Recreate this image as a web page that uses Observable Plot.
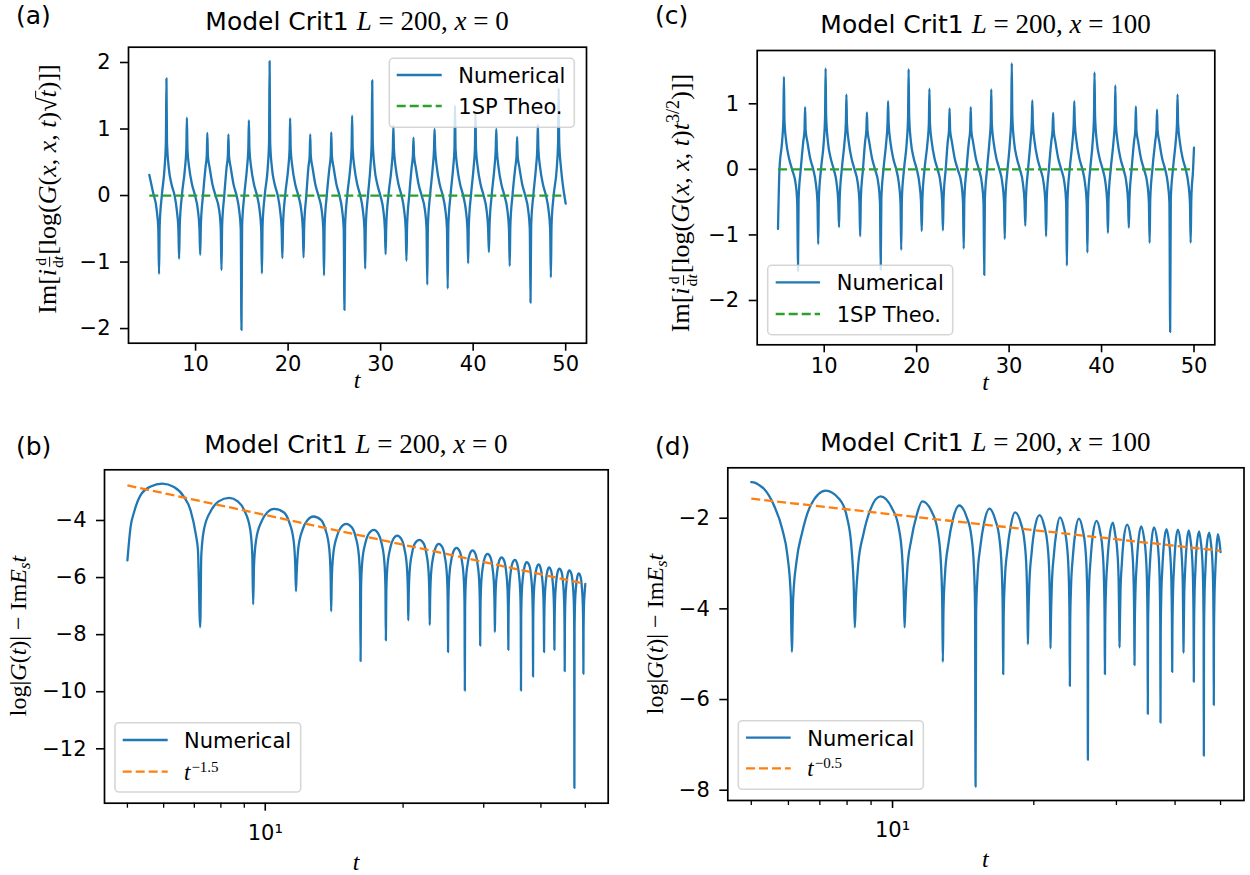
<!DOCTYPE html>
<html>
<head>
<meta charset="utf-8">
<script src="https://cdn.jsdelivr.net/npm/d3@7"></script>
<script src="https://cdn.jsdelivr.net/npm/@observablehq/plot@0.6"></script>
<style>
html,body{margin:0;padding:0;background:#fff;}
#fig{position:relative;width:1250px;height:875px;overflow:hidden;background:#fff;}
#fig > svg{position:absolute;}
.ylab{position:absolute;transform:translate(-50%,-50%) rotate(-90deg);white-space:nowrap;font-family:"Liberation Serif",serif;font-size:24px;line-height:1;color:#000;}
.ylab.big{font-size:26px;}
.frac{display:inline-flex;flex-direction:column;align-items:center;vertical-align:middle;font-size:0.6em;line-height:1.05;margin:0 1px;}
.frac .n{border-bottom:1px solid #000;padding:0 1px;}
.rad{border-top:1.2px solid #000;display:inline-block;line-height:0.95;}
.sup{font-size:0.7em;vertical-align:0.55em;}
.sub{font-size:0.7em;vertical-align:-0.25em;}
</style>
</head>
<body>
<div id="fig"></div>
<script>
// ---------------- data ----------------
const numA = [[5,0.31],[5.4,0.05],[5.8,-0.22],[5.97,-0.5],
[6.05,-1.18],[6.12,-0.45],[6.35,0],[6.65,0.42],[6.79,0.8],[6.85,1.76],[6.91,0.8],[7.1,0.42],[7.4,0.17],[7.73,0],[7.97,-0.22],[8.14,-0.5],
[8.22,-0.95],[8.29,-0.45],[8.52,0],[8.86,0.42],[9.0,0.7],[9.06,1.17],[9.12,0.7],[9.31,0.42],[9.61,0.17],[9.94,0],[10.25,-0.22],[10.42,-0.5],
[10.5,-0.89],[10.57,-0.45],[10.8,0],[11.07,0.42],[11.21,0.6],[11.27,0.94],[11.33,0.6],[11.52,0.42],[11.82,0.17],[12.15,0],[12.55,-0.22],[12.72,-0.5],
[12.8,-1.12],[12.87,-0.45],[13.1,0],[13.35,0.42],[13.49,0.6],[13.55,0.92],[13.61,0.6],[13.8,0.42],[14.1,0.17],[14.43,0],[14.71,-0.22],[14.88,-0.5],
[14.96,-2.02],[15.03,-0.45],[15.26,0],[15.56,0.42],[15.7,0.7],[15.76,1.13],[15.82,0.7],[16.01,0.42],[16.31,0.17],[16.64,0],[16.92,-0.22],[17.09,-0.5],
[17.17,-1.17],[17.24,-0.45],[17.47,0],[17.8,0.42],[17.94,0.8],[18.0,2.02],[18.06,0.8],[18.25,0.42],[18.55,0.17],[18.88,0],[19.13,-0.22],[19.3,-0.5],
[19.38,-0.94],[19.45,-0.45],[19.68,0],[20.02,0.42],[20.16,0.7],[20.22,1.16],[20.28,0.7],[20.47,0.42],[20.77,0.17],[21.1,0],[21.42,-0.22],[21.59,-0.5],
[21.67,-0.93],[21.74,-0.45],[21.97,0],[22.19,0.42],[22.33,0.6],[22.39,0.92],[22.45,0.6],[22.64,0.42],[22.94,0.17],[23.27,0],[23.63,-0.22],[23.8,-0.5],
[23.88,-1.2],[23.95,-0.45],[24.18,0],[24.47,0.42],[24.61,0.6],[24.67,0.95],[24.73,0.6],[24.92,0.42],[25.22,0.17],[25.55,0],[25.84,-0.22],[26.01,-0.5],
[26.09,-1.72],[26.16,-0.45],[26.39,0],[26.72,0.42],[26.86,0.7],[26.92,1.2],[26.98,0.7],[27.17,0.42],[27.47,0.17],[27.8,0],[28.08,-0.22],[28.25,-0.5],
[28.33,-1.1],[28.4,-0.45],[28.63,0],[28.89,0.42],[29.03,0.8],[29.09,1.73],[29.15,0.8],[29.34,0.42],[29.64,0.17],[29.97,0],[30.29,-0.22],[30.46,-0.5],
[30.54,-0.88],[30.61,-0.45],[30.84,0],[31.18,0.42],[31.32,0.7],[31.38,1.05],[31.44,0.7],[31.63,0.42],[31.93,0.17],[32.26,0],[32.54,-0.22],[32.71,-0.5],
[32.79,-0.98],[32.86,-0.45],[33.09,0],[33.35,0.42],[33.49,0.6],[33.55,0.87],[33.61,0.6],[33.8,0.42],[34.1,0.17],[34.43,0],[34.79,-0.22],[34.96,-0.5],
[35.04,-1.34],[35.11,-0.45],[35.34,0],[35.63,0.42],[35.77,0.7],[35.83,1.0],[35.89,0.7],[36.08,0.42],[36.38,0.17],[36.71,0],[37.0,-0.22],[37.17,-0.5],
[37.25,-1.4],[37.32,-0.45],[37.55,0],[37.84,0.42],[37.98,0.7],[38.04,1.35],[38.1,0.7],[38.29,0.42],[38.59,0.17],[38.92,0],[39.21,-0.22],[39.38,-0.5],
[39.46,-1.02],[39.53,-0.45],[39.76,0],[40.05,0.42],[40.19,0.7],[40.25,1.25],[40.31,0.7],[40.5,0.42],[40.8,0.17],[41.13,0],[41.45,-0.22],[41.62,-0.5],
[41.7,-0.85],[41.77,-0.45],[42.0,0],[42.3,0.42],[42.44,0.7],[42.5,1.0],[42.56,0.7],[42.75,0.42],[43.05,0.17],[43.38,0],[43.7,-0.22],[43.87,-0.5],
[43.95,-1.06],[44.02,-0.45],[44.25,0],[44.55,0.42],[44.69,0.6],[44.75,0.88],[44.81,0.6],[45.0,0.42],[45.3,0.17],[45.63,0],[45.95,-0.22],[46.12,-0.5],
[46.2,-1.61],[46.27,-0.45],[46.5,0],[46.79,0.42],[46.93,0.7],[46.99,1.07],[47.05,0.7],[47.24,0.42],[47.54,0.17],[47.87,0],[48.15,-0.22],[48.32,-0.5],
[48.4,-1.23],[48.47,-0.45],[48.7,0],[49.04,0.42],[49.18,0.8],[49.24,1.61],[49.3,0.8],[49.49,0.42],[49.75,0.1],[50,-0.12]];

const numC = [[5,-0.91],[5.16,0],[5.44,0.42],[5.58,0.75],[5.64,1.41],[5.7,0.75],[5.89,0.42],[6.19,0.17],[6.52,0],[6.91,-0.22],[7.08,-0.5],
[7.16,-1.55],[7.23,-0.45],[7.46,0],[7.73,0.42],[7.87,0.6],[7.93,0.95],[7.99,0.6],[8.18,0.42],[8.48,0.17],[8.81,0],[9.1,-0.22],[9.27,-0.5],
[9.35,-1.14],[9.42,-0.45],[9.65,0],[9.95,0.42],[10.09,0.8],[10.15,1.54],[10.21,0.8],[10.4,0.42],[10.7,0.17],[11.03,0],[11.35,-0.22],[11.52,-0.5],
[11.6,-0.88],[11.67,-0.45],[11.9,0],[12.2,0.42],[12.34,0.7],[12.4,1.14],[12.46,0.7],[12.65,0.42],[12.95,0.17],[13.28,0],[13.64,-0.22],[13.81,-0.5],
[13.89,-1.02],[13.96,-0.45],[14.19,0],[14.42,0.42],[14.56,0.6],[14.62,0.87],[14.68,0.6],[14.87,0.42],[15.17,0.17],[15.5,0],[15.86,-0.22],[16.03,-0.5],
[16.11,-1.53],[16.18,-0.45],[16.41,0],[16.71,0.42],[16.85,0.7],[16.91,1.04],[16.97,0.7],[17.16,0.42],[17.46,0.17],[17.79,0],[18.08,-0.22],[18.25,-0.5],
[18.33,-1.23],[18.4,-0.45],[18.63,0],[18.93,0.42],[19.07,0.8],[19.13,1.53],[19.19,0.8],[19.38,0.42],[19.68,0.17],[20.01,0],[20.3,-0.22],[20.47,-0.5],
[20.55,-0.94],[20.62,-0.45],[20.85,0],[21.18,0.42],[21.32,0.7],[21.38,1.23],[21.44,0.7],[21.63,0.42],[21.93,0.17],[22.26,0],[22.59,-0.22],[22.76,-0.5],
[22.84,-0.93],[22.91,-0.45],[23.14,0],[23.36,0.42],[23.5,0.6],[23.56,0.93],[23.62,0.6],[23.81,0.42],[24.11,0.17],[24.44,0],[24.84,-0.22],[25.01,-0.5],
[25.09,-1.21],[25.16,-0.45],[25.39,0],[25.65,0.42],[25.79,0.6],[25.85,0.95],[25.91,0.6],[26.1,0.42],[26.4,0.17],[26.73,0],[27.06,-0.22],[27.23,-0.5],
[27.31,-1.61],[27.38,-0.45],[27.61,0],[27.87,0.42],[28.01,0.7],[28.07,1.22],[28.13,0.7],[28.32,0.42],[28.62,0.17],[28.95,0],[29.28,-0.22],[29.45,-0.5],
[29.53,-1.06],[29.6,-0.45],[29.83,0],[30.09,0.42],[30.23,0.8],[30.29,1.62],[30.35,0.8],[30.54,0.42],[30.84,0.17],[31.17,0],[31.5,-0.22],[31.67,-0.5],
[31.75,-0.86],[31.82,-0.45],[32.05,0],[32.31,0.42],[32.45,0.7],[32.51,1.05],[32.57,0.7],[32.76,0.42],[33.06,0.17],[33.39,0],[33.75,-0.22],[33.92,-0.5],
[34.0,-1.02],[34.07,-0.45],[34.3,0],[34.56,0.42],[34.7,0.6],[34.76,0.86],[34.82,0.6],[35.01,0.42],[35.31,0.17],[35.64,0],[36.0,-0.22],[36.17,-0.5],
[36.25,-1.47],[36.32,-0.45],[36.55,0],[36.85,0.42],[36.99,0.7],[37.05,1.04],[37.11,0.7],[37.3,0.42],[37.6,0.17],[37.93,0],[38.22,-0.22],[38.39,-0.5],
[38.47,-1.27],[38.54,-0.45],[38.77,0],[39.04,0.42],[39.18,0.8],[39.24,1.48],[39.3,0.8],[39.49,0.42],[39.79,0.17],[40.12,0],[40.44,-0.22],[40.61,-0.5],
[40.69,-0.97],[40.76,-0.45],[40.99,0],[41.29,0.42],[41.43,0.7],[41.49,1.28],[41.55,0.7],[41.74,0.42],[42.04,0.17],[42.37,0],[42.7,-0.22],[42.87,-0.5],
[42.95,-0.89],[43.02,-0.45],[43.25,0],[43.51,0.42],[43.65,0.6],[43.71,0.96],[43.77,0.6],[43.96,0.42],[44.26,0.17],[44.59,0],[44.95,-0.22],[45.12,-0.5],
[45.2,-1.12],[45.27,-0.45],[45.5,0],[45.8,0.42],[45.94,0.6],[46.0,0.91],[46.06,0.6],[46.25,0.42],[46.55,0.17],[46.88,0],[47.17,-0.22],[47.34,-0.5],
[47.42,-2.48],[47.49,-0.45],[47.72,0],[48.02,0.42],[48.16,0.7],[48.22,1.14],[48.28,0.7],[48.47,0.42],[48.77,0.17],[49.1,0],[49.39,-0.22],[49.56,-0.5],
[49.64,-1.12],[49.71,-0.45],[49.9,0],[50,0.33]];

const numB = [[5,-5.4],[5.08,-4.23],[5.17,-3.71],[5.34,-3.12],[5.62,-2.81],[5.96,-2.71],[6.32,-2.83],[6.65,-3.18],[6.87,-3.65],[7.05,-4.47],[7.13,-5.05],
[7.21,-7.74],[7.25,-5.21],[7.35,-4.31],[7.61,-3.66],[7.91,-3.33],[8.34,-3.21],[8.71,-3.33],[9.01,-3.66],[9.27,-4.31],[9.37,-5.21],
[9.41,-6.94],[9.45,-5.59],[9.55,-4.69],[9.81,-4.04],[10.11,-3.71],[10.46,-3.59],[10.97,-3.71],[11.27,-4.04],[11.53,-4.69],[11.63,-5.59],
[11.67,-6.48],[11.71,-5.86],[11.81,-4.96],[12.07,-4.31],[12.37,-3.98],[12.74,-3.86],[13.23,-3.98],[13.53,-4.31],[13.79,-4.96],[13.89,-5.86],
[13.93,-7.18],[13.97,-6.12],[14.07,-5.22],[14.33,-4.57],[14.63,-4.24],[15.02,-4.12],[15.45,-4.24],[15.75,-4.57],[16.01,-5.22],[16.11,-6.12],
[16.15,-8.93],[16.19,-6.33],[16.29,-5.43],[16.55,-4.78],[16.85,-4.45],[17.27,-4.33],[17.64,-4.45],[17.94,-4.78],[18.2,-5.43],[18.3,-6.33],
[18.34,-8.2],[18.38,-6.53],[18.48,-5.63],[18.74,-4.98],[19.04,-4.65],[19.42,-4.53],[19.83,-4.65],[20.13,-4.98],[20.39,-5.63],[20.49,-6.53],
[20.53,-7.5],[20.57,-6.68],[20.67,-5.78],[20.93,-5.13],[21.23,-4.8],[21.71,-4.68],[22.17,-4.8],[22.47,-5.13],[22.73,-5.78],[22.83,-6.68],
[22.87,-7.66],[22.91,-6.82],[23.01,-5.92],[23.27,-5.27],[23.57,-4.94],[23.92,-4.82],[24.37,-4.94],[24.67,-5.27],[24.93,-5.92],[25.03,-6.82],
[25.07,-8.61],[25.11,-6.96],[25.21,-6.06],[25.47,-5.41],[25.77,-5.08],[26.16,-4.96],[26.58,-5.08],[26.88,-5.41],[27.14,-6.06],[27.24,-6.96],
[27.28,-9.96],[27.32,-7.05],[27.42,-6.15],[27.68,-5.5],[27.98,-5.17],[28.36,-5.05],[28.77,-5.17],[29.07,-5.5],[29.33,-6.15],[29.43,-7.05],
[29.47,-8.38],[29.51,-7.17],[29.61,-6.27],[29.87,-5.62],[30.17,-5.29],[30.58,-5.17],[31.03,-5.29],[31.33,-5.62],[31.59,-6.27],[31.69,-7.17],
[31.73,-7.91],[31.77,-7.29],[31.87,-6.39],[32.13,-5.74],[32.43,-5.41],[32.81,-5.29],[33.25,-5.41],[33.55,-5.74],[33.81,-6.39],[33.91,-7.29],
[33.95,-8.53],[33.99,-7.38],[34.09,-6.48],[34.35,-5.83],[34.65,-5.5],[35.1,-5.38],[35.48,-5.5],[35.78,-5.83],[36.04,-6.48],[36.14,-7.38],
[36.18,-9.96],[36.22,-7.46],[36.32,-6.56],[36.58,-5.91],[36.88,-5.58],[37.23,-5.46],[37.74,-5.58],[38.04,-5.91],[38.3,-6.56],[38.4,-7.46],
[38.44,-9.47],[38.48,-7.54],[38.58,-6.64],[38.84,-5.99],[39.14,-5.66],[39.55,-5.54],[39.93,-5.66],[40.23,-5.99],[40.49,-6.64],[40.59,-7.54],
[40.63,-8.61],[40.67,-7.64],[40.77,-6.74],[41.03,-6.09],[41.33,-5.76],[41.67,-5.64],[42.1,-5.76],[42.4,-6.09],[42.66,-6.74],[42.76,-7.64],
[42.8,-8.53],[42.84,-7.69],[42.94,-6.79],[43.2,-6.14],[43.5,-5.81],[43.88,-5.69],[44.38,-5.81],[44.68,-6.14],[44.94,-6.79],[45.04,-7.69],
[45.08,-9.28],[45.12,-7.75],[45.22,-6.85],[45.48,-6.2],[45.78,-5.87],[46.14,-5.75],[46.63,-5.87],[46.93,-6.2],[47.19,-6.85],[47.29,-7.75],
[47.33,-13.37],[47.37,-7.85],[47.47,-6.95],[47.73,-6.3],[48.03,-5.97],[48.37,-5.85],[48.82,-5.97],[49.12,-6.3],[49.38,-6.95],[49.48,-7.85],
[49.52,-9.37],[49.56,-7.9],[49.66,-7.0],[49.85,-6.5],[50,-6.22]];

const numD = [[5,-1.205],[5.1,-1.22],[5.2,-1.27],[5.32,-1.35],[5.59,-1.72],[5.82,-2.24],[5.97,-2.82],[6.07,-3.71],
[6.1,-4.95],[6.14,-3.78],[6.24,-2.97],[6.42,-2.31],[6.69,-1.72],[7.2,-1.39],[7.69,-1.57],[8.01,-2.01],[8.18,-2.68],[8.27,-3.56],
[8.31,-4.41],[8.35,-3.82],[8.45,-3.02],[8.66,-2.37],[8.96,-1.82],[9.43,-1.52],[9.96,-1.77],[10.29,-2.17],[10.48,-2.82],[10.57,-3.72],
[10.61,-4.41],[10.65,-3.93],[10.75,-3.13],[10.96,-2.48],[11.26,-1.93],[11.57,-1.63],[12.15,-1.88],[12.48,-2.28],[12.67,-2.93],[12.76,-3.83],
[12.8,-5.17],[12.84,-4.02],[12.94,-3.22],[13.15,-2.57],[13.45,-2.02],[13.87,-1.72],[14.38,-1.97],[14.71,-2.37],[14.9,-3.02],[14.99,-3.92],
[15.03,-7.92],[15.07,-4.09],[15.17,-3.29],[15.38,-2.64],[15.68,-2.09],[16.09,-1.79],[16.56,-2.04],[16.89,-2.44],[17.08,-3.09],[17.17,-3.99],
[17.21,-5.44],[17.25,-4.17],[17.35,-3.37],[17.56,-2.72],[17.86,-2.17],[18.23,-1.87],[18.78,-2.12],[19.11,-2.52],[19.3,-3.17],[19.39,-4.07],
[19.43,-4.78],[19.47,-4.23],[19.57,-3.43],[19.78,-2.78],[20.08,-2.23],[20.57,-1.93],[21.06,-2.18],[21.39,-2.58],[21.58,-3.23],[21.67,-4.13],
[21.71,-4.87],[21.75,-4.28],[21.85,-3.48],[22.06,-2.83],[22.36,-2.28],[22.73,-1.98],[23.22,-2.23],[23.55,-2.63],[23.74,-3.28],[23.83,-4.18],
[23.87,-5.7],[23.91,-4.31],[24.01,-3.51],[24.22,-2.86],[24.52,-2.31],[24.95,-2.01],[25.43,-2.26],[25.76,-2.66],[25.95,-3.31],[26.04,-4.21],
[26.08,-7.33],[26.12,-4.36],[26.22,-3.56],[26.43,-2.91],[26.73,-2.36],[27.21,-2.06],[27.7,-2.31],[28.03,-2.71],[28.22,-3.36],[28.31,-4.26],
[28.35,-5.44],[28.39,-4.4],[28.49,-3.6],[28.7,-2.95],[29.0,-2.4],[29.48,-2.1],[29.81,-2.35],[30.14,-2.75],[30.33,-3.4],[30.42,-4.3],
[30.46,-4.85],[30.5,-4.44],[30.6,-3.64],[30.81,-2.99],[31.11,-2.44],[31.62,-2.14],[32.13,-2.39],[32.46,-2.79],[32.65,-3.44],[32.74,-4.34],
[32.78,-5.24],[32.82,-4.48],[32.92,-3.68],[33.13,-3.03],[33.43,-2.48],[33.88,-2.18],[34.34,-2.43],[34.67,-2.83],[34.86,-3.48],[34.95,-4.38],
[34.99,-6.32],[35.03,-4.5],[35.13,-3.7],[35.34,-3.05],[35.64,-2.5],[36.05,-2.2],[36.59,-2.45],[36.92,-2.85],[37.11,-3.5],[37.2,-4.4],
[37.24,-6.51],[37.28,-4.54],[37.38,-3.74],[37.59,-3.09],[37.89,-2.54],[38.35,-2.24],[38.79,-2.49],[39.12,-2.89],[39.31,-3.54],[39.4,-4.44],
[39.44,-5.39],[39.48,-4.55],[39.58,-3.75],[39.79,-3.1],[40.09,-2.55],[40.55,-2.25],[41.04,-2.5],[41.37,-2.9],[41.56,-3.55],[41.65,-4.45],
[41.69,-4.97],[41.73,-4.57],[41.83,-3.77],[42.04,-3.12],[42.34,-2.57],[42.79,-2.27],[43.2,-2.52],[43.53,-2.92],[43.72,-3.57],[43.81,-4.47],
[43.85,-5.61],[43.89,-4.59],[43.99,-3.79],[44.2,-3.14],[44.5,-2.59],[45.02,-2.29],[45.41,-2.54],[45.74,-2.94],[45.93,-3.59],[46.02,-4.49],
[46.06,-7.24],[46.1,-4.62],[46.2,-3.82],[46.41,-3.17],[46.71,-2.62],[47.29,-2.32],[47.72,-2.57],[48.05,-2.97],[48.24,-3.62],[48.33,-4.52],
[48.37,-6.12],[48.41,-4.65],[48.51,-3.85],[48.72,-3.2],[49.02,-2.65],[49.33,-2.35],[49.7,-2.5],[50,-2.75]];

const theoA = [[5,0],[50,0]];
const theoC = [[5,0],[50,0]];
const fitB = [[5,-2.77],[50,-6.22]];
const fitD = [[5,-1.57],[50,-2.72]];

const xTicksLin = [10,20,30,40,50];
const yTicksA = [-2,-1,0,1,2];
const yTicksC = [-2,-1,0,1];
const yTicksB = [-12,-10,-8,-6,-4];
const yTicksD = [-8,-6,-4,-2];
const xMajorLog = [10];
const xMajorLogLabels = ["10¹"];
const xMinorLog = [5,6,7,8,9,20,30,40,50];

const seriesTop = ["Numerical", "1SP Theo."];
const seriesBottomB = ["Numerical", "−1.5"];
const seriesBottomD = ["Numerical", "−0.5"];
const titleText = "Model Crit1";
const sizeL = 200;
const posX = {a: 0, b: 0, c: 100, d: 100};

// ---------------- drawing ----------------
const blue = "#1f77b4", orange = "#ff7f0e", green = "#2ca02c";
const LW = 2.3, DASH = "9,4";
const fig = document.getElementById("fig");
const toObj = arr => arr.map(([t, v]) => ({t, v}));
const intFmt = d => (d < 0 ? "\u2212" : "") + Math.abs(d);

function panel(o) {
  const p = Plot.plot({
    width: o.w, height: o.h,
    marginLeft: o.ml, marginRight: o.mr, marginTop: o.mt, marginBottom: o.mb,
    style: {background: "transparent", overflow: "visible", fontFamily: "'DejaVu Sans', sans-serif", fontSize: "21px", color: "#000"},
    x: Object.assign({label: null}, o.x),
    y: Object.assign({label: null}, o.y),
    marks: o.marks
  });
  p.style.position = "absolute";
  p.style.left = o.left + "px";
  p.style.top = o.top + "px";
  fig.appendChild(p);
}

const linAxes = (yt) => [
  Plot.frame({stroke: "#000", strokeWidth: 1.7}),
  Plot.axisX(xTicksLin, {tickSize: 8, tickPadding: 5, fontSize: 21, strokeWidth: 1.6, label: null, tickFormat: intFmt}),
  Plot.axisY(yt, {tickSize: 8, tickPadding: 10, fontSize: 21, strokeWidth: 1.6, label: null, tickFormat: intFmt})
];
const logAxes = (yt) => [
  Plot.frame({stroke: "#000", strokeWidth: 1.7}),
  Plot.axisX(xMinorLog, {tickSize: 5, fill: "none", strokeWidth: 1.3, label: null}),
  Plot.axisX(xMajorLog, {tickSize: 8, tickPadding: 14, fontSize: 21, strokeWidth: 1.6, label: null,
    tickFormat: d => xMajorLogLabels[xMajorLog.indexOf(d)]}),
  Plot.axisY(yt, {tickSize: 8, tickPadding: 10, fontSize: 21, strokeWidth: 1.6, label: null, tickFormat: intFmt})
];
const numLine = (data) => Plot.line(toObj(data), {x: "t", y: "v", stroke: blue, strokeWidth: LW, curve: "monotone-x"});
const dashLine = (data, color) => Plot.line(toObj(data), {x: "t", y: "v", stroke: color, strokeWidth: LW, strokeDasharray: DASH, strokeLinecap: "butt"});

panel({left: 0, top: 0, w: 625, h: 430, ml: 128, mr: 39, mt: 46.7, mb: 87.3,
  x: {domain: [2.75, 52.25]}, y: {domain: [-2.22, 2.23]},
  marks: [numLine(numA), dashLine(theoA, green), ...linAxes(yTicksA)]});
panel({left: 625, top: 0, w: 625, h: 430, ml: 131.7, mr: 35.7, mt: 50, mb: 85.7,
  x: {domain: [2.75, 52.25]}, y: {domain: [-2.676, 1.813]},
  marks: [numLine(numC), dashLine(theoC, green), ...linAxes(yTicksC)]});
panel({left: 0, top: 430, w: 625, h: 445, ml: 104, mr: 17.3, mt: 39.3, mb: 72.3,
  x: {type: "log", domain: [4.456, 56.1]}, y: {domain: [-13.906, -2.224]},
  marks: [numLine(numB), dashLine(fitB, orange), ...logAxes(yTicksB)]});
panel({left: 625, top: 430, w: 625, h: 445, ml: 102.3, mr: 6.5, mt: 37.3, mb: 75,
  x: {type: "log", domain: [4.456, 56.1]}, y: {domain: [-8.227, -0.888]},
  marks: [numLine(numD), dashLine(fitD, orange), ...logAxes(yTicksD)]});

// ---------------- overlay text & legends ----------------
const NS = "http://www.w3.org/2000/svg";
const ov = document.createElementNS(NS, "svg");
ov.setAttribute("width", 1250); ov.setAttribute("height", 875);
ov.style.cssText = "position:absolute;left:0;top:0;pointer-events:none;font-family:'DejaVu Sans',sans-serif;";
fig.appendChild(ov);
function el(tag, attrs, parent, html) {
  const e = document.createElementNS(NS, tag);
  for (const k in attrs) e.setAttribute(k, attrs[k]);
  if (html != null) e.innerHTML = html;
  (parent || ov).appendChild(e);
  return e;
}
const SERIF = "'Liberation Serif', serif";

[["(a)", 16, 24], ["(c)", 655, 24], ["(b)", 16, 455], ["(d)", 655, 455]].forEach(([s, x, y]) =>
  el("text", {x, y, "font-size": 25, fill: "#000"}, ov, s));

function title(x, y, xv) {
  el("text", {x, y, "font-size": 25, "text-anchor": "middle", fill: "#000", style: "white-space:pre"}, ov,
    `${titleText} <tspan font-family="${SERIF}" font-size="27"><tspan font-style="italic">L</tspan> = ${sizeL}, <tspan font-style="italic">x</tspan> = ${xv}</tspan>`);
}
title(357, 30, posX.a);
title(985.5, 33, posX.c);
title(355.9, 452.5, posX.b);
title(985.4, 450.5, posX.d);

[[357, 388], [985.5, 389.6], [356, 870], [985.4, 867.3]].forEach(([x, y]) =>
  el("text", {x, y, "font-size": 24, "font-family": SERIF, "font-style": "italic", "text-anchor": "middle", fill: "#000"}, ov, "t"));

function legend(o) {
  el("rect", {x: o.x, y: o.y, width: o.w, height: o.h, rx: 4, fill: "#fff", "fill-opacity": 0.8,
    stroke: "#cccccc", "stroke-opacity": 0.8, "stroke-width": 1.6});
  o.rows.forEach((r) => {
    const attrs = {x1: o.lx1, x2: o.lx2, y1: r.y, y2: r.y, stroke: r.color, "stroke-width": LW};
    if (r.dash) { attrs["stroke-dasharray"] = DASH; }
    el("line", attrs);
    el("text", {x: o.tx, y: r.y + 8, "font-size": 21, fill: "#000"}, ov, r.html);
  });
}
const powHtml = s => `<tspan font-family="${SERIF}" font-style="italic" font-size="23">t</tspan><tspan font-family="${SERIF}" font-size="15" dy="-8" dx="1">${s}</tspan>`;
legend({x: 389.3, y: 58.3, w: 185, h: 69, lx1: 396.7, lx2: 441.7, tx: 458.3,
  rows: [{y: 75, color: blue, html: seriesTop[0]}, {y: 106, color: green, dash: true, html: seriesTop[1]}]});
legend({x: 767.7, y: 265.3, w: 185, h: 69.4, lx1: 775.7, lx2: 820, tx: 836.7,
  rows: [{y: 282.3, color: blue, html: seriesTop[0]}, {y: 314, color: green, dash: true, html: seriesTop[1]}]});
legend({x: 115, y: 722.7, w: 185.7, h: 69.3, lx1: 122.7, lx2: 167.7, tx: 184,
  rows: [{y: 740, color: blue, html: seriesBottomB[0]}, {y: 771.7, color: orange, dash: true, html: powHtml(seriesBottomB[1])}]});
legend({x: 738.3, y: 720.7, w: 185, h: 68.6, lx1: 746, lx2: 790.7, tx: 807.3,
  rows: [{y: 737.7, color: blue, html: seriesBottomD[0]}, {y: 768.3, color: orange, dash: true, html: powHtml(seriesBottomD[1])}]});

function ylab(x, y, html, cls) {
  const d = document.createElement("div");
  d.className = "ylab" + (cls ? " " + cls : "");
  d.style.left = x + "px"; d.style.top = y + "px";
  d.innerHTML = html;
  fig.appendChild(d);
}
const ddt = `<span class="frac"><span class="n">d</span><span>d<i>t</i></span></span>`;
ylab(50, 189, `Im[<i>i</i>${ddt}[log(<i>G</i>(<i>x</i>, <i>x</i>, <i>t</i>)√<span class="rad"><i>t</i></span>)]]`, "big");
ylab(681.7, 203, `Im[<i>i</i>${ddt}[log(<i>G</i>(<i>x</i>, <i>x</i>, <i>t</i>)<i>t</i><span class="sup">3/2</span>)]]`, "big");
const logLab = `log|<i>G</i>(<i>t</i>)| − Im<i>E</i><span class="sub"><i>s</i></span><i>t</i>`;
ylab(20, 636, logLab);
ylab(656.7, 634, logLab);
</script>
</body>
</html>
